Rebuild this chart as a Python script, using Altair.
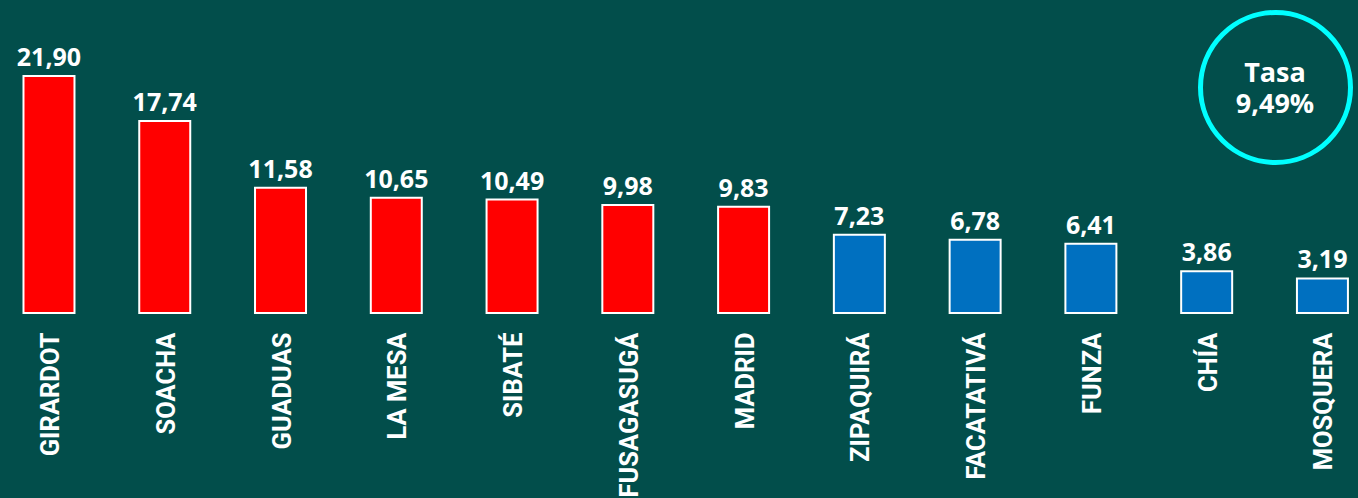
import altair as alt
import pandas as pd

municipios = ["GIRARDOT", "SOACHA", "GUADUAS", "LA MESA", "SIBATÉ", "FUSAGASUGÁ",
              "MADRID", "ZIPAQUIRÁ", "FACATATIVÁ", "FUNZA", "CHÍA", "MOSQUERA"]
tasas = [21.90, 17.74, 11.58, 10.65, 10.49, 9.98, 9.83, 7.23, 6.78, 6.41, 3.86, 3.19]
etiquetas = ["21,90", "17,74", "11,58", "10,65", "10,49", "9,98", "9,83",
             "7,23", "6,78", "6,41", "3,86", "3,19"]
grupo = ["alto"] * 7 + ["bajo"] * 5
tasa_titulo = ["Tasa", "9,49%"]

BG = "#024e4b"
df = pd.DataFrame({"municipio": municipios, "tasa": tasas, "etiqueta": etiquetas, "grupo": grupo})

x = alt.X("municipio:N", sort=municipios, title=None,
          scale=alt.Scale(paddingInner=0.5595, paddingOuter=0.1449, align=0.70),
          axis=alt.Axis(labelAngle=270, labelAlign="right", labelBaseline="middle",
                        labelColor="white", labelFont="Roboto",
                        labelFontSize=25.5, labelFontWeight="bold", labelPadding=19,
                        labelOffset=2, ticks=False, domain=False, grid=False,
                        labelLimit=400))
y = alt.Y("tasa:Q", scale=alt.Scale(domain=[0, 28.93], nice=False, zero=True), axis=None)

base = alt.Chart(df)
bars = base.mark_bar(stroke="white", strokeWidth=2).encode(
    x=x, y=y,
    color=alt.Color("grupo:N", scale=alt.Scale(domain=["alto", "bajo"], range=["#ff0000", "#0070c0"]), legend=None),
)
labels = base.mark_text(font="Open Sans", fontSize=25, fontWeight="bold", color="white",
                        baseline="alphabetic", dy=-10).encode(x=x, y=y, text="etiqueta:N")

ann = pd.DataFrame({"t": ["\n".join(tasa_titulo)]})
circle = alt.Chart(ann).mark_point(shape="circle", filled=False, stroke="#00ffff", strokeWidth=5,
                                   size=22500, opacity=1).encode(x=alt.value(1275.5), y=alt.value(87.5))
rate_text = alt.Chart(ann).mark_text(font="Open Sans", fontSize=27, fontWeight="bold", color="white",
                                     baseline="alphabetic", lineBreak="\n", lineHeight=31).encode(
    x=alt.value(1275), y=alt.value(82), text="t:N")

chart = alt.layer(bars, labels, circle, rate_text).properties(
    width=1358, height=313,
    autosize=alt.AutoSizeParams(type="none"),
    padding={"left": 0, "top": 0, "right": 0, "bottom": 185},
    background=BG,
).configure_view(stroke=None)

chart.save("out.html", embed_options={"renderer": "svg", "actions": False,
                                      "defaultStyle": "body{margin:0;padding:0;background:%s;overflow:hidden}" % BG})
